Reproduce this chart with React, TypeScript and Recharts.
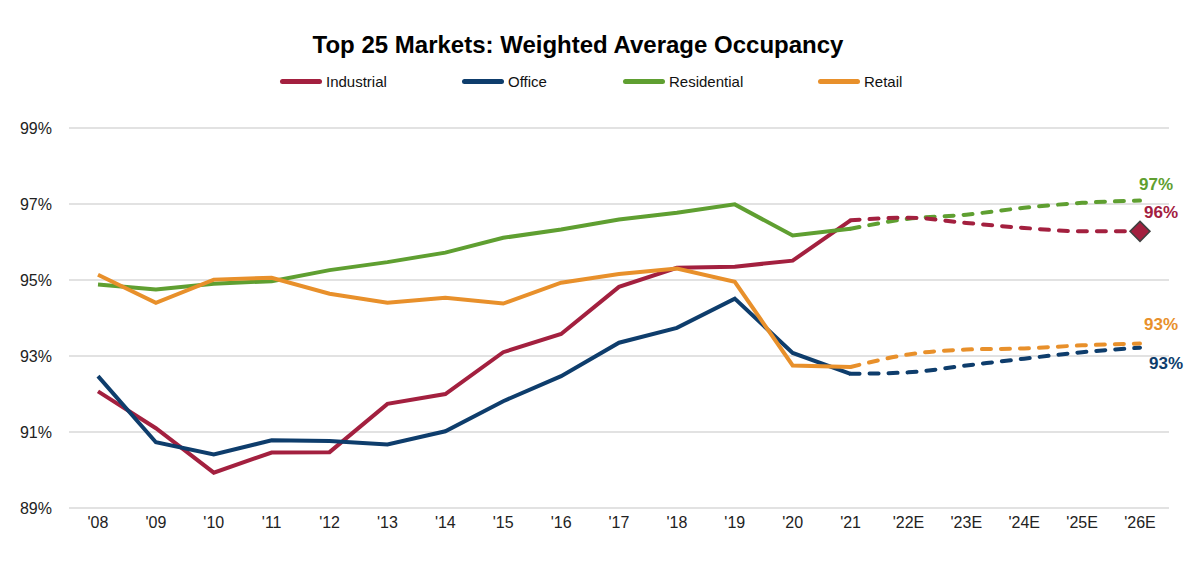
import React from "react";
import { LineChart, Line, XAxis, YAxis, CartesianGrid, LabelList } from "recharts";

const categories = ["'08", "'09", "'10", "'11", "'12", "'13", "'14", "'15", "'16", "'17", "'18", "'19", "'20", "'21", "'22E", "'23E", "'24E", "'25E", "'26E"];

// actual values '08 - '21
const industrial = [92.07, 91.1, 89.93, 90.46, 90.47, 91.74, 92.0, 93.1, 93.58, 94.82, 95.32, 95.35, 95.51, 96.57];
const office = [92.47, 90.73, 90.41, 90.78, 90.76, 90.67, 91.02, 91.81, 92.47, 93.35, 93.74, 94.51, 93.08, 92.53];
const residential = [94.88, 94.75, 94.9, 94.97, 95.26, 95.47, 95.72, 96.11, 96.33, 96.59, 96.77, 96.99, 96.17, 96.35];
const retail = [95.14, 94.4, 95.01, 95.06, 94.64, 94.4, 94.53, 94.38, 94.93, 95.16, 95.3, 94.95, 92.75, 92.71];

// forecast values '21 - '26E
const industrialForecast = [96.57, 96.64, 96.5, 96.37, 96.28, 96.28];
const officeForecast = [92.53, 92.57, 92.75, 92.93, 93.1, 93.22];
const residentialForecast = [96.35, 96.61, 96.72, 96.9, 97.03, 97.09];
const retailForecast = [92.71, 93.04, 93.17, 93.2, 93.28, 93.33];

const yTicks = [89, 91, 93, 95, 97, 99];
const endLabels = { industrial: "96%", office: "93%", residential: "97%", retail: "93%" };

const COLORS = {
  industrial: "#A3203F",
  office: "#0E3D6C",
  residential: "#5F9F31",
  retail: "#E8902B",
};

const seriesNames = [
  { key: "industrial", name: "Industrial" },
  { key: "office", name: "Office" },
  { key: "residential", name: "Residential" },
  { key: "retail", name: "Retail" },
];

const FORECAST_START = industrial.length - 1;
const LAST = categories.length - 1;

const data = categories.map((c, i) => {
  const row: any = { cat: c };
  if (i < industrial.length) {
    row.industrial = industrial[i];
    row.office = office[i];
    row.residential = residential[i];
    row.retail = retail[i];
  }
  if (i >= FORECAST_START) {
    const j = i - FORECAST_START;
    row.industrialF = industrialForecast[j];
    row.officeF = officeForecast[j];
    row.residentialF = residentialForecast[j];
    row.retailF = retailForecast[j];
  }
  return row;
});

const FONT = "'Liberation Sans', Arial, sans-serif";

const makeEndLabel = (text: string, color: string, dx: number, dy: number) => (props: any) => {
  const { x, y, index } = props;
  if (index !== LAST) return <g />;
  return (
    <text x={x + dx} y={y + dy} fill={color} fontSize={17} fontWeight="bold" fontFamily={FONT} textAnchor="middle" dominantBaseline="central">
      {text}
    </text>
  );
};

const diamondDot = (props: any) => {
  const { cx, cy, index } = props;
  if (index !== LAST || cx == null) return <g key={`d-${index}`} />;
  const r = 10;
  return (
    <path
      key={`d-${index}`}
      d={`M${cx},${cy - r} L${cx + r},${cy} L${cx},${cy + r} L${cx - r},${cy} Z`}
      fill={COLORS.industrial}
      stroke="#404040"
      strokeWidth={1.5}
    />
  );
};

const DASH = "9 10";

export default function App() {
  const legendX = [280, 462, 623, 818];
  return (
    <div style={{ position: "absolute", left: 0, top: 0, width: 1200, height: 575, background: "#fff", fontFamily: FONT }}>
      <div style={{ position: "absolute", left: 0, width: 1156, top: 30, textAlign: "center", fontSize: 24, fontWeight: "bold", color: "#000", lineHeight: "30px" }}>
        Top 25 Markets: Weighted Average Occupancy
      </div>
      {seriesNames.map((s, i) => (
        <div key={s.key} style={{ position: "absolute", left: legendX[i], top: 72, height: 18, display: "flex", alignItems: "center" }}>
          <div style={{ width: 42, height: 5, borderRadius: 3, background: (COLORS as any)[s.key] }} />
          <span style={{ marginLeft: 4, fontSize: 15, color: "#111" }}>{s.name}</span>
        </div>
      ))}
      <div style={{ position: "absolute", left: 0, top: 0 }}>
        <LineChart width={1200} height={575} data={data} margin={{ top: 128, right: 31, bottom: 37, left: 0 }}>
          <CartesianGrid horizontal vertical={false} stroke="#D9D9D9" strokeWidth={1.3} />
          <XAxis
            dataKey="cat"
            height={30}
            axisLine={false}
            tickLine={false}
            tickSize={0}
            tickMargin={9}
            padding={{ left: 29, right: 29 }}
            interval={0}
            tick={{ fill: "#222", fontSize: 16, fontFamily: FONT }}
          />
          <YAxis
            width={69}
            domain={[89, 99]}
            ticks={yTicks}
            axisLine={false}
            tickLine={false}
            tickSize={0}
            tickMargin={17}
            tickFormatter={(v: number) => `${v}%`}
            tick={{ fill: "#222", fontSize: 16, fontFamily: FONT }}
          />
          {seriesNames.map((s) => (
            <Line
              key={s.key}
              type="linear"
              dataKey={s.key}
              stroke={(COLORS as any)[s.key]}
              strokeWidth={4}
              dot={false}
              activeDot={false}
              connectNulls={false}
              isAnimationActive={false}
            />
          ))}
          <Line type="monotone" dataKey="residentialF" stroke={COLORS.residential} strokeWidth={4} strokeDasharray={DASH} strokeLinecap="round" dot={false} activeDot={false} isAnimationActive={false}>
            <LabelList dataKey="residentialF" content={makeEndLabel(endLabels.residential, COLORS.residential, 16, -16)} />
          </Line>
          <Line type="monotone" dataKey="industrialF" stroke={COLORS.industrial} strokeWidth={4} strokeDasharray={DASH} strokeLinecap="round" dot={diamondDot} activeDot={false} isAnimationActive={false}>
            <LabelList dataKey="industrialF" content={makeEndLabel(endLabels.industrial, COLORS.industrial, 21, -19)} />
          </Line>
          <Line type="monotone" dataKey="retailF" stroke={COLORS.retail} strokeWidth={4} strokeDasharray={DASH} strokeLinecap="round" dot={false} activeDot={false} isAnimationActive={false}>
            <LabelList dataKey="retailF" content={makeEndLabel(endLabels.retail, COLORS.retail, 21, -19)} />
          </Line>
          <Line type="monotone" dataKey="officeF" stroke={COLORS.office} strokeWidth={4} strokeDasharray={DASH} strokeLinecap="round" dot={false} activeDot={false} isAnimationActive={false}>
            <LabelList dataKey="officeF" content={makeEndLabel(endLabels.office, COLORS.office, 26, 16)} />
          </Line>
        </LineChart>
      </div>
    </div>
  );
}
